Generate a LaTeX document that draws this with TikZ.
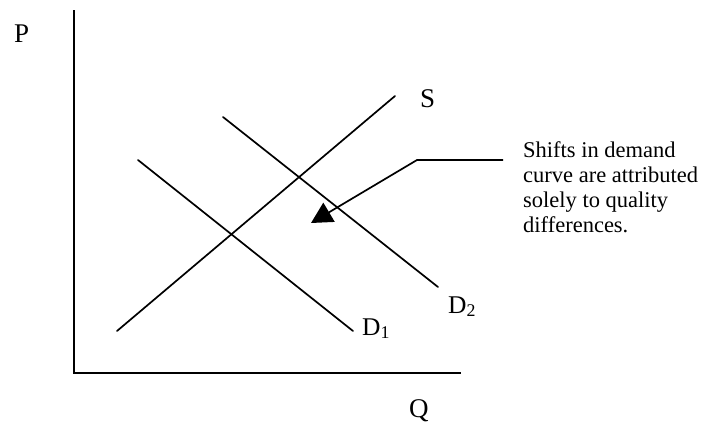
\documentclass[tikz,border=0pt]{standalone}
\usepackage{fontspec}
\setmainfont{Liberation Serif}
\usetikzlibrary{arrows.meta}
\tikzset{
  curve/.style={line width=1.7pt, line cap=round},
  axis/.style={line width=2pt},
  lbl/.style={inner sep=0pt, anchor=base west, font=\fontsize{27}{30}\selectfont},
  dlbl/.style={inner sep=0pt, anchor=base west, font=\fontsize{25.5}{28}\selectfont},
  note/.style={inner sep=0pt, anchor=north west, align=left, font=\fontsize{22.5}{25}\selectfont},
  pointer/.style={line width=1.7pt, -{Triangle[length=21pt,width=22pt]}}
}
\begin{document}
\begin{tikzpicture}[x=1pt,y=-1pt]
\useasboundingbox (0,0) rectangle (705,423);
% axes
\coordinate (top) at (74,10);
\coordinate (origin) at (74,373);
\coordinate (right) at (461,373);
\draw[axis] (top) -- (origin) -- (right);
% axis labels
\node[lbl] (P) at (14,42) {P};
\node[lbl] (Q) at (409,417) {Q};
% supply
\coordinate (s1) at (117,331);
\coordinate (s2) at (395,96);
\draw[curve] (s1) -- (s2);
\node[lbl] (S) at (420,107) {S};
% demand 1
\coordinate (d1a) at (138,160);
\coordinate (d1b) at (353,331);
\draw[curve] (d1a) -- (d1b);
\node[dlbl] (D1) at (362,335) {D\textsubscript{1}};
% demand 2
\coordinate (d2a) at (223,117);
\coordinate (d2b) at (438,287);
\draw[curve] (d2a) -- (d2b);
\node[dlbl] (D2) at (448,313) {D\textsubscript{2}};
% note and pointer
\node[note] (note) at (523,141.6) {Shifts in demand\\curve are attributed\\solely to quality\\differences.};
\coordinate (p0) at (503,160);
\coordinate (p1) at (417,160);
\coordinate (tip) at (311,223);
\draw[pointer] (p0) -- (p1) -- (tip);
\end{tikzpicture}
\end{document}
